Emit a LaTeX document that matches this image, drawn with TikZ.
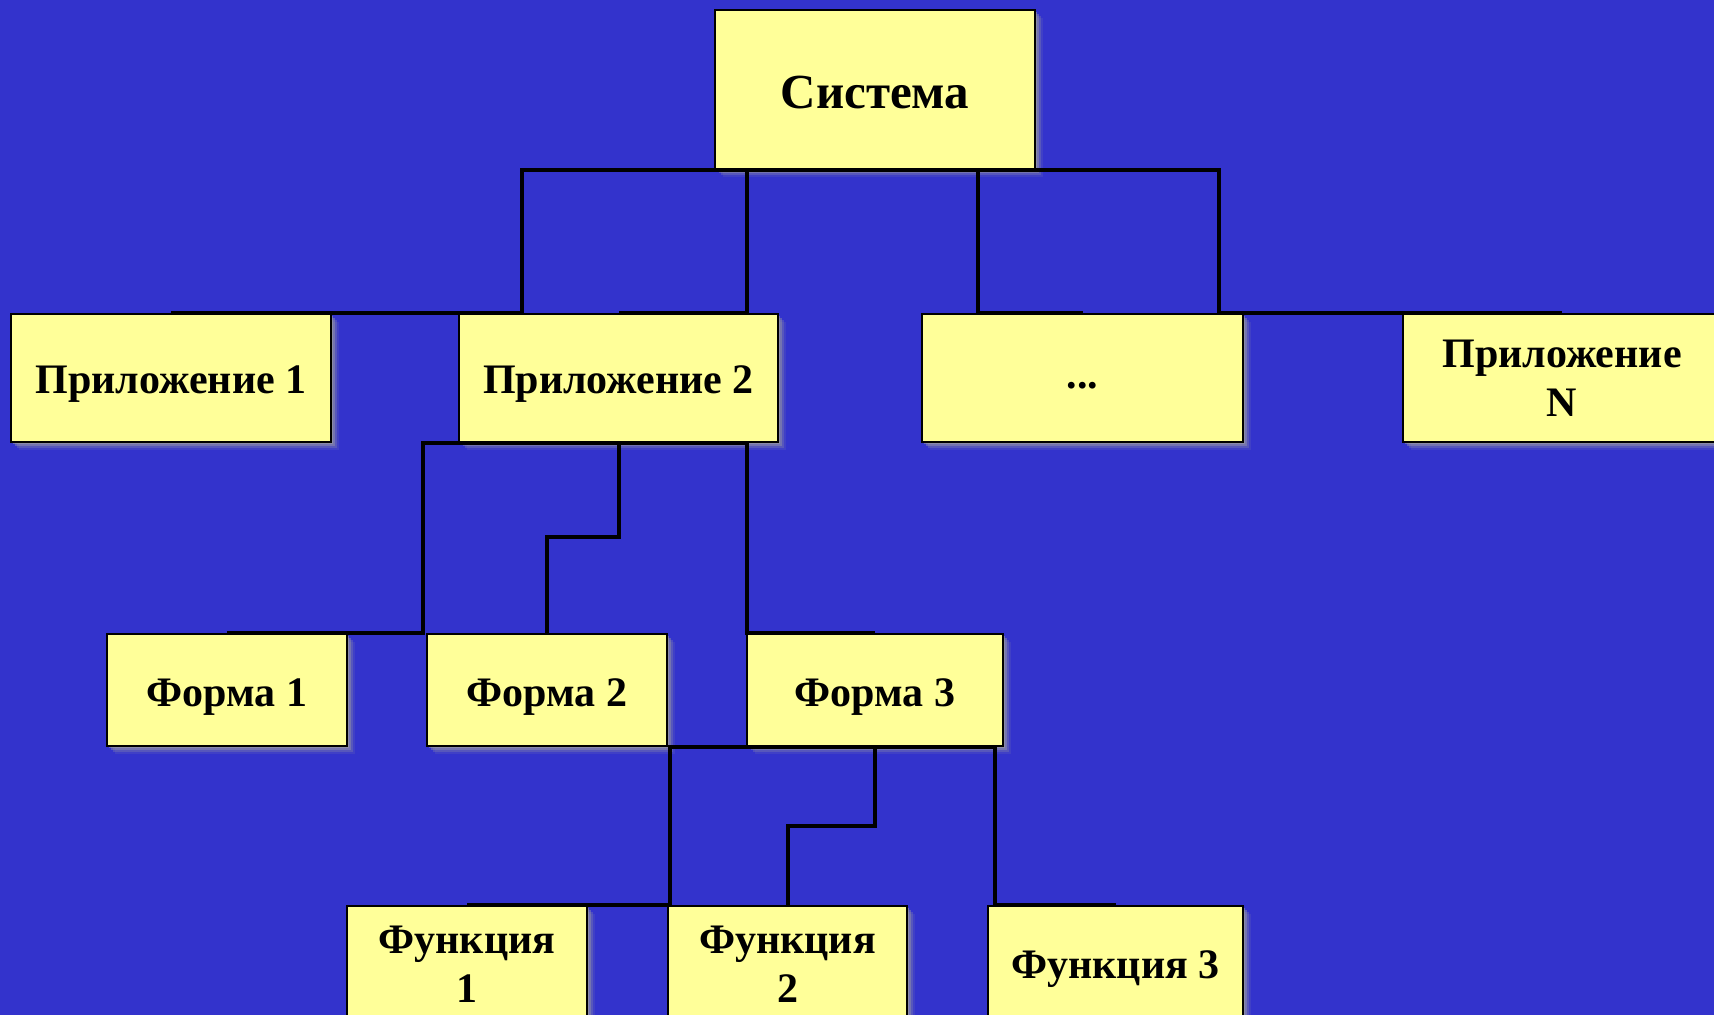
\documentclass[tikz,border=0pt]{standalone}
\usepackage{fontspec}
\setmainfont{Liberation Serif}
\usetikzlibrary{shadows}
\definecolor{bgblue}{RGB}{51,51,204}
\definecolor{boxy}{RGB}{255,255,153}
\definecolor{shadowc}{RGB}{160,160,160}
\begin{document}
\begin{tikzpicture}[x=0.5pt,y=-0.5pt,
  box/.style={draw=black, line width=1pt, fill=boxy, inner sep=0pt, align=center,
    font=\bfseries\fontsize{21}{24.5}\selectfont,
    drop shadow={shadow xshift=1pt,shadow yshift=-1pt,fill=shadowc,opacity=0.55},
    drop shadow={shadow xshift=2pt,shadow yshift=-2pt,fill=shadowc,opacity=0.4},
    drop shadow={shadow xshift=3pt,shadow yshift=-3pt,fill=shadowc,opacity=0.25},
    drop shadow={shadow xshift=4pt,shadow yshift=-4pt,fill=shadowc,opacity=0.12}},
  one/.style={box, text height=16pt, text depth=0pt},
  conn/.style={draw=black, line width=2pt}]
\useasboundingbox (0,0) rectangle (1714,1015);
\fill[bgblue] (0,0) rectangle (1714,1015);
\clip (0,0) rectangle (1714,1015);
% level 0
\node[one, text height=19pt, minimum width=160pt, minimum height=79.5pt, font=\bfseries\fontsize{24.5}{28}\selectfont] (sys) at (875,89.5) {Система};
% level 1
\node[one, minimum width=160pt, minimum height=64pt] (a1) at (171,378) {Приложение 1};
\node[one, minimum width=159.5pt, minimum height=64pt] (a2) at (618.5,378) {Приложение 2};
\node[one, text height=11pt, minimum width=160.5pt, minimum height=64pt] (a3) at (1082.5,378) {...};
\node[box, minimum width=159pt, minimum height=64pt] (aN) at (1562,378) {Приложение\\N};
% level 2
\node[one, minimum width=120pt, minimum height=56pt] (f1) at (227,690) {Форма 1};
\node[one, minimum width=120pt, minimum height=56pt] (f2) at (547,690) {Форма 2};
\node[one, minimum width=128pt, minimum height=56pt] (f3) at (875,690) {Форма 3};
% level 3
\node[box, minimum width=120pt, minimum height=58pt] (g1) at (467,964) {Функция\\1};
\node[box, minimum width=119.5pt, minimum height=58pt] (g2) at (787.5,964) {Функция\\2};
\node[one, text height=14pt, minimum width=127.5pt, minimum height=58pt] (g3) at (1115.5,964) {Функция 3};
% bend coordinates
\coordinate (b1) at (522,0);
\coordinate (b2) at (747,0);
\coordinate (b3) at (978,0);
\coordinate (b4) at (1219,0);
\coordinate (c1) at (423,0);
\coordinate (c2) at (0,537);
\coordinate (c3) at (747,0);
\coordinate (d1) at (670,0);
\coordinate (d2) at (0,826);
\coordinate (d3) at (995,0);
% connectors
\draw[conn] (sys.south) -| (b1 |- a1.north) -- (a1.north);
\draw[conn] (sys.south) -| (b2 |- a2.north) -- (a2.north);
\draw[conn] (sys.south) -| (b3 |- a3.north) -- (a3.north);
\draw[conn] (sys.south) -| (b4 |- aN.north) -- (aN.north);
\draw[conn] (a2.south) -| (c1 |- f1.north) -- (f1.north);
\draw[conn] (a2.south) -- (a2.south |- c2) -| (f2.north);
\draw[conn] (a2.south) -| (c3 |- f3.north) -- (f3.north);
\draw[conn] (f3.south) -| (d1 |- g1.north) -- (g1.north);
\draw[conn] (f3.south) -- (f3.south |- d2) -| (g2.north);
\draw[conn] (f3.south) -| (d3 |- g3.north) -- (g3.north);
\end{tikzpicture}
\end{document}
